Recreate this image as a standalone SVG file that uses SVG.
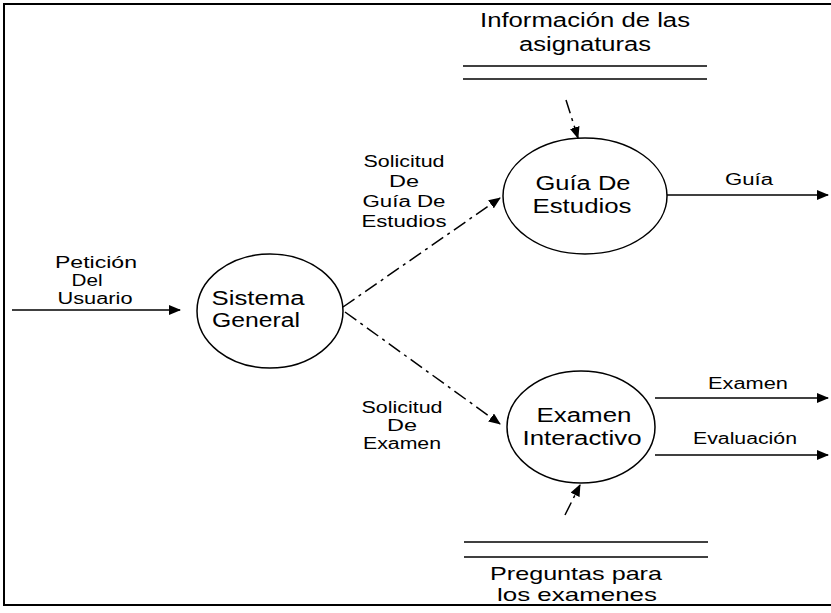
<svg xmlns="http://www.w3.org/2000/svg" width="831" height="613" viewBox="0 0 831 613">
<defs>
<marker id="arr" viewBox="0 0 12 10" refX="11" refY="5" markerWidth="12" markerHeight="10" markerUnits="userSpaceOnUse" orient="auto">
<path d="M0,0 L12,5 L0,10 Z" fill="#000"/>
</marker>
<style>
text{font-family:"Liberation Sans",Arial,sans-serif;fill:#000;text-anchor:middle}
.big{font-size:20px}
.st{font-size:18.5px}
.sm{font-size:16px}
.proc{fill:none;stroke:#000;stroke-width:1.5}
.flow{fill:none;stroke:#000;stroke-width:1.5;marker-end:url(#arr)}
.dash{stroke-dasharray:14 5 3 5}
.store{stroke:#000;stroke-width:1.5}
</style>
</defs>
<rect width="831" height="613" fill="#fff"/>
<rect x="4" y="4" width="840" height="601" fill="none" stroke="#000" stroke-width="2"/>

<g id="store-asignaturas">
<line class="store" x1="463" y1="66" x2="707" y2="66"/>
<line class="store" x1="463" y1="79" x2="707" y2="79"/>
<text class="big" x="585" y="27" textLength="210" lengthAdjust="spacingAndGlyphs">Información de las</text>
<text class="big" x="585" y="51" textLength="132" lengthAdjust="spacingAndGlyphs">asignaturas</text>
</g>

<g id="store-preguntas">
<line class="store" x1="464" y1="542" x2="708" y2="542"/>
<line class="store" x1="464" y1="557" x2="708" y2="557"/>
<text class="st" x="576" y="580" textLength="172" lengthAdjust="spacingAndGlyphs">Preguntas para</text>
<text class="st" x="577" y="601" textLength="160" lengthAdjust="spacingAndGlyphs">los examenes</text>
</g>

<g id="sistema-general">
<ellipse class="proc" cx="270" cy="311" rx="73" ry="57"/>
<text class="big" x="258" y="305" textLength="93" lengthAdjust="spacingAndGlyphs">Sistema</text>
<text class="big" x="256" y="327" textLength="88" lengthAdjust="spacingAndGlyphs">General</text>
</g>

<g id="guia-estudios">
<ellipse class="proc" cx="585" cy="196" rx="82" ry="58"/>
<text class="big" x="583" y="190" textLength="95" lengthAdjust="spacingAndGlyphs">Guía De</text>
<text class="big" x="582" y="213" textLength="99" lengthAdjust="spacingAndGlyphs">Estudios</text>
</g>

<g id="examen-interactivo">
<ellipse class="proc" cx="581" cy="427" rx="74" ry="56"/>
<text class="big" x="584" y="422" textLength="95" lengthAdjust="spacingAndGlyphs">Examen</text>
<text class="big" x="582" y="445" textLength="119" lengthAdjust="spacingAndGlyphs">Interactivo</text>
</g>

<g id="connectors">
<line class="flow" x1="12" y1="310" x2="180" y2="310"/>
<line class="flow dash" x1="343" y1="307" x2="500" y2="198"/>
<line class="flow dash" x1="345" y1="312" x2="500" y2="424"/>
<line class="flow" x1="667" y1="195" x2="828" y2="195"/>
<line class="flow" x1="655" y1="398" x2="828" y2="398"/>
<line class="flow" x1="655" y1="455" x2="828" y2="455"/>
<line class="flow dash" x1="566" y1="100" x2="578" y2="138"/>
<line class="flow dash" x1="565" y1="515" x2="580" y2="485"/>
</g>

<g id="labels">
<text class="sm" x="96" y="268" textLength="82" lengthAdjust="spacingAndGlyphs">Petición</text>
<text class="sm" x="87" y="286" textLength="31" lengthAdjust="spacingAndGlyphs">Del</text>
<text class="sm" x="95" y="304" textLength="75" lengthAdjust="spacingAndGlyphs">Usuario</text>

<text class="sm" x="404" y="167" textLength="81" lengthAdjust="spacingAndGlyphs">Solicitud</text>
<text class="sm" x="404" y="187" textLength="30" lengthAdjust="spacingAndGlyphs">De</text>
<text class="sm" x="404" y="207" textLength="83" lengthAdjust="spacingAndGlyphs">Guía De</text>
<text class="sm" x="404" y="227" textLength="85" lengthAdjust="spacingAndGlyphs">Estudios</text>

<text class="sm" x="402" y="413" textLength="81" lengthAdjust="spacingAndGlyphs">Solicitud</text>
<text class="sm" x="402" y="431" textLength="30" lengthAdjust="spacingAndGlyphs">De</text>
<text class="sm" x="402" y="449" textLength="78" lengthAdjust="spacingAndGlyphs">Examen</text>

<text class="sm" x="749" y="185" textLength="48" lengthAdjust="spacingAndGlyphs">Guía</text>
<text class="sm" x="748" y="389" textLength="80" lengthAdjust="spacingAndGlyphs">Examen</text>
<text class="sm" x="745" y="444" textLength="104" lengthAdjust="spacingAndGlyphs">Evaluación</text>
</g>
</svg>
